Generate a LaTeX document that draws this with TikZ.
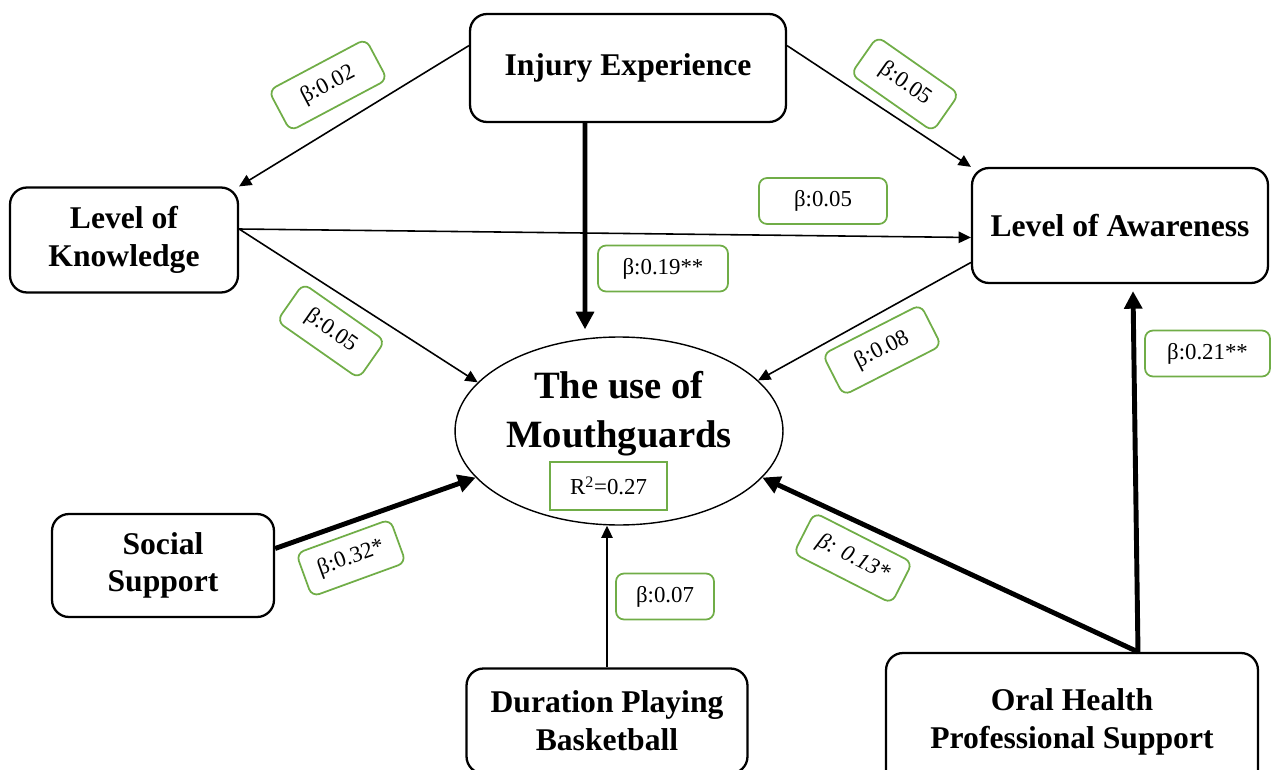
\documentclass[tikz,border=0pt]{standalone}
\usepackage{fontspec}
\setmainfont{Liberation Serif}
\usetikzlibrary{arrows.meta,shapes.geometric}
\definecolor{coefgreen}{RGB}{112,173,71}

\begin{document}
\begin{tikzpicture}[x=0.02cm,y=-0.02cm,
    factor/.style={draw,rounded corners=0.34cm,line width=1.3pt,align=center,font=\fontsize{18}{21.5}\selectfont\bfseries},
    coef/.style={draw=coefgreen,rounded corners=0.16cm,line width=1pt,minimum height=0.92cm,font=\fontsize{13}{15}\selectfont},
    arr/.style={draw,line width=0.9pt,-{Triangle[length=7pt,width=6.5pt]}},
    bigarr/.style={draw,line width=2.8pt,-{Triangle[length=10pt,width=10pt]}}]
    \useasboundingbox (0,0) rectangle (1271,770);

    \node[factor,minimum width=6.32cm,minimum height=2.16cm] (inj) at (628,68) {Injury Experience};
    \node[factor,minimum width=4.56cm,minimum height=2.1cm] (know) at (124,240) {Level of\\Knowledge};
    \node[factor,minimum width=5.92cm,minimum height=2.3cm] (aware) at (1120,225.5) {Level of Awareness};
    \node[factor,minimum width=4.44cm,minimum height=2.06cm] (soc) at (163,565.5) {Social\\Support};
    \node[factor,minimum width=5.62cm,minimum height=2.1cm] (dur) at (607,721) {Duration Playing\\Basketball};
    \node[factor,minimum width=7.44cm,minimum height=2.76cm] (oral) at (1072,722) {Oral Health\\Professional Support};

    \node[ellipse,draw,line width=0.8pt,minimum width=6.56cm,minimum height=3.76cm] (mg) at (619,431) {};
    \node[align=center,font=\fontsize{22}{28}\selectfont\bfseries] (mgtext) at (619,414) {The use of\\Mouthguards};
    \node[draw=coefgreen,line width=1pt,minimum width=2.34cm,minimum height=0.96cm,font=\fontsize{13}{15}\selectfont] (rsq) at (608.5,486) {R\textsuperscript{2}=0.27};

    \node[coef,minimum width=2.2cm,rotate=28] (cinjknow) at (328,85) {β:0.02};
    \node[coef,minimum width=2cm,rotate=-35] (cinjaware) at (905,84) {β:0.05};
    \node[coef,minimum width=2.56cm] (cknowaware) at (823,201) {β:0.05};
    \node[coef,minimum width=2.6cm] (cinjmg) at (663,268.5) {β:0.19**};
    \node[coef,minimum width=2cm,rotate=-35] (cknowmg) at (331,331) {β:0.05};
    \node[coef,minimum width=2.2cm,rotate=27] (cawaremg) at (882,350) {β:0.08};
    \node[coef,minimum width=2.5cm] (coralaware) at (1207.5,353.5) {β:0.21**};
    \node[coef,minimum width=2cm,rotate=20] (csocmg) at (351,558) {β:0.32*};
    \node[coef,minimum width=1.96cm] (cdurmg) at (665,596.5) {β:0.07};
    \node[coef,minimum width=2.2cm,rotate=-27,font=\fontsize{13}{15}\selectfont\itshape] (coralmg) at (853,558) {β: 0.13*};

    \coordinate (ohtop) at ([xshift=1.32cm]oral.north);

    \draw[arr] (inj.172) -- (know.north east);
    \draw[arr] (inj.8) -- (aware.north west);
    \draw[bigarr] ([xshift=-0.86cm]inj.south) -- ([xshift=-0.68cm,yshift=0.14cm]mg.north);
    \draw[arr] ([yshift=0.22cm]know.east) -- ([yshift=-0.24cm]aware.west);
    \draw[arr] ([yshift=0.22cm]know.east) -- (mg.161);
    \draw[arr] ([yshift=-0.74cm]aware.west) -- (mg.20);
    \draw[bigarr] ([yshift=0.34cm]soc.east) -- (mg.198);
    \draw[arr] (dur.north) -- (dur.north |- mg.south);
    \draw[bigarr] (ohtop) -- (mg.-18);
    \draw[bigarr] (ohtop) -- ([xshift=0.26cm,yshift=-0.14cm]aware.south);
\end{tikzpicture}
\end{document}
